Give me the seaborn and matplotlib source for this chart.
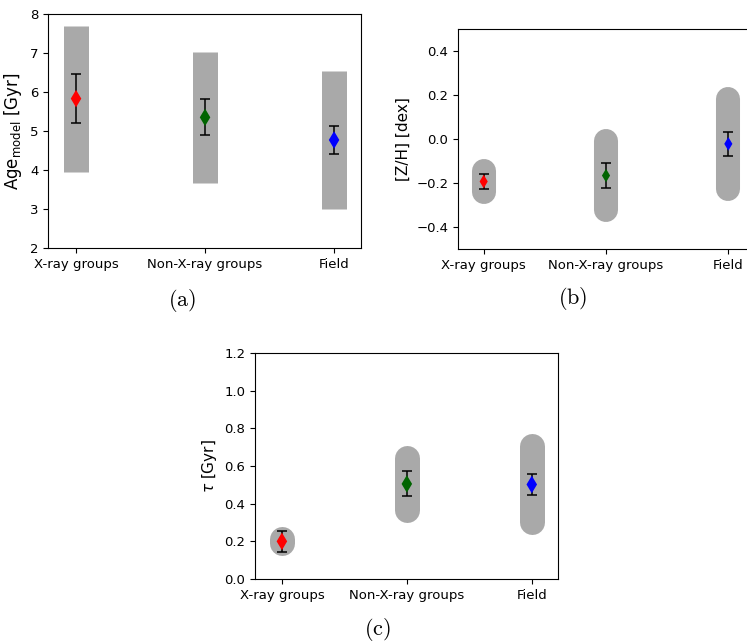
import matplotlib
matplotlib.use("Agg")
import matplotlib.pyplot as plt
import seaborn as sns
import pandas as pd

# Sample groups along the x axis
groups = ["X-ray groups", "Non-X-ray groups", "Field"]
point_colors = ["red", "darkgreen", "blue"]

# Model age [Gyr]: mean, error on the mean, and spread (band ends)
age_mean = [5.83, 5.35, 4.77]
age_err = [0.63, 0.46, 0.36]
age_low = [3.94, 3.67, 3.00]
age_high = [7.70, 7.03, 6.53]

# Total metallicity [Z/H] [dex]
zh_mean = [-0.193, -0.166, -0.022]
zh_err = [0.035, 0.058, 0.054]
zh_low = [-0.243, -0.322, -0.227]
zh_high = [-0.145, -0.008, 0.181]

# Star-formation timescale tau [Gyr]
tau_mean = [0.200, 0.505, 0.502]
tau_err = [0.054, 0.066, 0.058]
tau_low = [0.190, 0.367, 0.301]
tau_high = [0.212, 0.642, 0.704]

fig = plt.figure(figsize=(7.47, 6.42), dpi=100)


def panel(rect, mean, err, low, high, ylabel, ylim, yticks, xlim,
          capstyle, band_lw, msize):
    ax = fig.add_axes(rect)
    df = pd.DataFrame({"group": groups, "mean": mean, "err": err,
                       "low": low, "high": high})
    # spread band
    ax.vlines(df["group"], df["low"], df["high"], colors="darkgray",
              linewidth=band_lw, capstyle=capstyle, zorder=1)
    # error on the mean
    ax.errorbar(df["group"], df["mean"], yerr=df["err"], fmt="none",
                ecolor="black", elinewidth=1.1, capsize=3.3, capthick=1.1,
                zorder=2)
    # mean values
    sns.scatterplot(data=df, x="group", y="mean", hue="group",
                    palette=point_colors, marker="d", s=msize,
                    linewidth=0, legend=False, ax=ax, zorder=3)
    ax.set_xlim(*xlim)
    ax.set_ylim(*ylim)
    ax.set_yticks(yticks)
    ax.set_xlabel("")
    ax.set_ylabel(ylabel, fontsize=11)
    ax.tick_params(labelsize=9.5)
    return ax


ax_a = panel([0.0643, 0.6137, 0.419, 0.3645], age_mean, age_err, age_low,
             age_high, r"Age$_{\rm model}$ [Gyr]", (2, 8), range(2, 9),
             (-0.217, 2.209), "butt", 18, 80)
ax_a.yaxis.label.set_size(12)

ax_b = panel([0.6131, 0.6121, 0.3963, 0.3427], zh_mean, zh_err, zh_low,
             zh_high, "[Z/H] [dex]", (-0.5, 0.5),
             [-0.4, -0.2, 0.0, 0.2, 0.4], (-0.21, 2.21), "round", 17.3, 48)

ax_c = panel([0.3414, 0.0981, 0.4056, 0.3520], tau_mean, tau_err, tau_low,
             tau_high, r"$\tau$ [Gyr]", (0, 1.2),
             [0.0, 0.2, 0.4, 0.6, 0.8, 1.0, 1.2], (-0.215, 2.21), "round",
             18, 80)

# subfigure captions
for x, y, s in [(0.2436, 0.5327, "(a)"), (0.767, 0.5343, "(b)"),
                (0.506, 0.0202, "(c)")]:
    fig.text(x, y, r"$\mathrm{" + s + "}$", math_fontfamily="cm",
             fontsize=16, ha="center", va="center")

fig.savefig("out.png", dpi=100)
